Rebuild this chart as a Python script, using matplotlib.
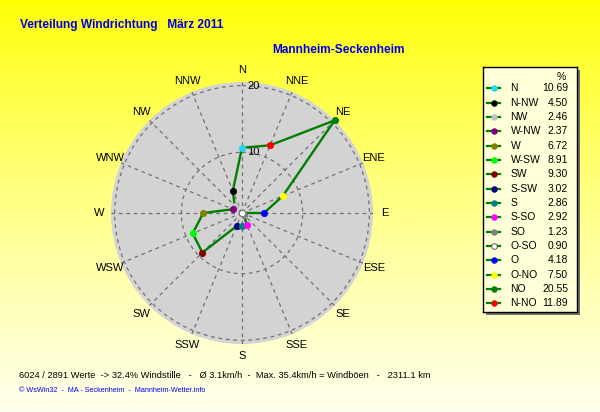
import numpy as np
import matplotlib
matplotlib.use('Agg')
import matplotlib.pyplot as plt
from matplotlib.patches import Rectangle

plt.rcParams['font.family'] = ['Liberation Sans', 'DejaVu Sans']

# legend order (counter-clockwise from north), German direction names
dir_names = ['N', 'N-NW', 'NW', 'W-NW', 'W', 'W-SW', 'SW', 'S-SW',
             'S', 'S-SO', 'SO', 'O-SO', 'O', 'O-NO', 'NO', 'N-NO']
percent = [10.69, 4.50, 2.46, 2.37, 6.72, 8.91, 9.30, 3.02,
           2.86, 2.92, 1.23, 0.90, 4.18, 7.50, 20.55, 11.89]
dot_colors = ['#20d8f0', '#000000', '#c0c0c0', '#800080', '#808000', '#00ff00',
              '#800000', '#000080', '#008080', '#ff00ff', '#808080', '#ffffff',
              '#0000ff', '#ffff00', '#008000', '#ff0000']
compass_labels = ['N', 'NNE', 'NE', 'ENE', 'E', 'ESE', 'SE', 'SSE',
                  'S', 'SSW', 'SW', 'WSW', 'W', 'WNW', 'NW', 'NNW']
r_ticks = [10, 20]

title = 'Verteilung Windrichtung   März 2011'
station = 'Mannheim-Seckenheim'
summary = ('6024 / 2891 Werte  -> 32.4% Windstille   -   Ø 3.1km/h  -  '
           'Max. 35.4km/h = Windböen   -   2311.1 km')
footer = '© WsWin32  -  MA - Seckenheim  -  Mannheim-Wetter.info'

W, H = 600, 412
fig = plt.figure(figsize=(W / 100, H / 100), dpi=100)

# yellow gradient background
bg = fig.add_axes([0, 0, 1, 1], zorder=-10)
grad = np.linspace(0, 1, 256)
img = np.ones((256, 1, 3))
img[:, 0, 2] = 0.93 * grad ** 0.8
bg.imshow(img, aspect='auto', extent=[0, 1, 0, 1], origin='upper')
bg.axis('off')

# polar chart
cx, cy, rad = 242, 213, 131
ax = fig.add_axes([(cx - rad) / W, 1 - (cy + rad) / H, 2 * rad / W, 2 * rad / H],
                  projection='polar')
ax.set_theta_zero_location('N')
ax.set_theta_direction(-1)
ax.set_facecolor('#d3d3d3')
ax.spines['polar'].set_visible(False)

theta = np.deg2rad([(360 - i * 22.5) % 360 for i in range(len(percent))])
vals = np.array(percent)
ax.set_rlim(min(percent), max(percent))

ax.set_xticks(np.deg2rad(np.arange(0, 360, 22.5)))
ax.set_xticklabels(compass_labels, fontsize=8)
ax.tick_params(axis='x', pad=-2)
ax.set_yticks(r_ticks)
ax.set_yticklabels([])
ax.grid(True, color='#707070', linestyle=(0, (3, 3)), linewidth=0.9)
for rt in r_ticks:
    ax.annotate(str(rt), xy=(0, rt), xytext=(4, 0), textcoords='offset points',
                ha='left', va='center', fontsize=8)

ax.plot(np.append(theta, theta[0]), np.append(vals, vals[0]),
        color='#008000', lw=1.7, zorder=3)
for t, v, c in zip(theta, vals, dot_colors):
    ec = '#707070' if c == '#ffffff' else c
    ax.plot([t], [v], 'o', ms=4.5, mfc=c, mec=ec, mew=0.6, zorder=4, clip_on=False)

# titles
fig.text(20 / W, 1 - 25 / H, title, color='#0000e0', fontsize=8.6, fontweight='bold',
         ha='left', va='center')
fig.text(272 / W, 1 - 50 / H, station, color='#0000e0', fontsize=8.6, fontweight='bold',
         ha='left', va='center')
fig.text(19 / W, 1 - 375 / H, summary, color='black', fontsize=6.7, ha='left', va='center')
fig.text(19 / W, 1 - 391 / H, footer, color='#0000ff', fontsize=5.2, ha='left', va='center')

# legend box
lx0, ly0, lx1, ly1 = 483, 67, 577, 312
fig.patches.append(Rectangle(((lx0 + 3) / W, 1 - (ly1 + 3) / H),
                             (lx1 - lx0) / W, (ly1 - ly0) / H, transform=fig.transFigure,
                             facecolor='#707070', edgecolor='none', zorder=1))
lg = fig.add_axes([lx0 / W, 1 - ly1 / H, (lx1 - lx0) / W, (ly1 - ly0) / H], zorder=2)
lg.set_xlim(lx0, lx1)
lg.set_ylim(ly1, ly0)
lg.set_facecolor('#ffffd8')
for s in lg.spines.values():
    s.set_linewidth(1.0)
lg.set_xticks([])
lg.set_yticks([])
lg.text(561.5, 77.5, '%', fontsize=7.5, ha='center', va='center')
for i, (name, v, c) in enumerate(zip(dir_names, percent, dot_colors)):
    y = 88.3 + i * 14.33
    lg.plot([487, 500], [y, y], color='#008000', lw=1.6)
    ec = '#404040' if c == '#ffffff' else c
    lg.plot([493.5], [y], 'o', ms=4, mfc=c, mec=ec, mew=0.6)
    lg.text(510.5, y, name, fontsize=7.5, ha='left', va='center')
    lg.text(568, y, f'{v:.2f}', fontsize=7.5, ha='right', va='center')

fig.savefig('out.png', dpi=100)
